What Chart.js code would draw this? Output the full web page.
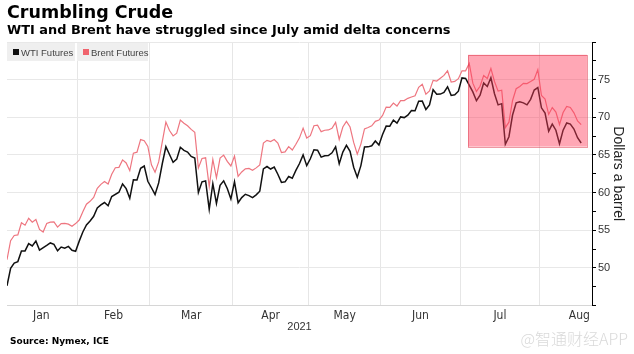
<!DOCTYPE html>
<html>
<head>
<meta charset="utf-8">
<script src="https://cdn.jsdelivr.net/npm/chart.js@4.4.1/dist/chart.umd.min.js"></script>
<style>
  body { margin: 0; background: #fff; }
  #wrap { position: relative; width: 634px; height: 354px; overflow: hidden; font-family: 'DejaVu Sans', sans-serif; }
  #wrap canvas { position: absolute; left: 0; top: 0; }
  .title { position: absolute; left: 7px; top: 2px; font-weight: bold; font-size: 17.5px; line-height: 20px; color: #000; white-space: nowrap; }
  .subtitle { position: absolute; left: 7px; top: 21.5px; font-weight: bold; font-size: 12.9px; line-height: 15px; color: #000; white-space: nowrap; }
  .legend { position: absolute; left: 7px; top: 43px; display: flex; font-family: 'Liberation Sans', sans-serif; font-size: 9.5px; color: #444; white-space: nowrap; }
  .legend .item { background: #efefef; height: 18px; display: flex; align-items: center; padding-left: 6px; margin-right: 2px; box-sizing: border-box; white-space: nowrap; }
  .legend i { display: inline-block; flex: none; width: 6px; height: 6px; margin-right: 2px; }
  .source { position: absolute; left: 10px; top: 336.4px; font-weight: bold; font-size: 9px; line-height: 11px; color: #000; white-space: nowrap; }
  .mark { position: absolute; right: 6px; top: 329px; font-family: 'Noto Sans CJK SC', sans-serif; font-weight: 300; font-size: 16px; line-height: 18px; color: #dadada; white-space: nowrap; }
</style>
</head>
<body>
<div id="wrap">
  <canvas id="crude-chart" width="634" height="354"></canvas>
  <div class="title">Crumbling Crude</div>
  <div class="subtitle">WTI and Brent have struggled since July amid delta concerns</div>
  <div class="legend">
    <span class="item" style="width:68px"><i style="background:#111"></i>WTI Futures</span>
    <span class="item" style="width:71px"><i style="background:#f0646e"></i>Brent Futures</span>
  </div>
  <div class="source">Source: Nymex, ICE</div>
  <div class="mark">@智通财经APP</div>
</div>
<script>
// trading days, 2021
var dates = [
  '01-04','01-05','01-06','01-07','01-08','01-11','01-12','01-13','01-14','01-15','01-18','01-19','01-20','01-21','01-22','01-25','01-26','01-27','01-28','01-29',
  '02-01','02-02','02-03','02-04','02-05','02-08','02-09','02-10','02-11','02-12','02-15','02-16','02-17','02-18','02-19','02-22','02-23','02-24','02-25','02-26',
  '03-01','03-02','03-03','03-04','03-05','03-08','03-09','03-10','03-11','03-12','03-15','03-16','03-17','03-18','03-19','03-22','03-23','03-24','03-25','03-26','03-29','03-30','03-31',
  '04-01','04-05','04-06','04-07','04-08','04-09','04-12','04-13','04-14','04-15','04-16','04-19','04-20','04-21','04-22','04-23','04-26','04-27','04-28','04-29','04-30',
  '05-03','05-04','05-05','05-06','05-07','05-10','05-11','05-12','05-13','05-14','05-17','05-18','05-19','05-20','05-21','05-24','05-25','05-26','05-27','05-28',
  '06-01','06-02','06-03','06-04','06-07','06-08','06-09','06-10','06-11','06-14','06-15','06-16','06-17','06-18','06-21','06-22','06-23','06-24','06-25','06-28','06-29','06-30',
  '07-01','07-02','07-05','07-06','07-07','07-08','07-09','07-12','07-13','07-14','07-15','07-16','07-19','07-20','07-21','07-22','07-23','07-26','07-27','07-28','07-29','07-30',
  '08-02','08-03','08-04','08-05','08-06','08-09','08-10','08-11','08-12','08-13','08-16','08-17'
];

var wti = [
  47.62,49.93,50.63,50.83,52.24,52.25,53.21,52.91,53.57,52.36,null,52.98,53.31,53.13,52.27,52.77,52.61,52.85,52.34,52.20,
  53.55,54.76,55.69,56.23,56.85,57.97,58.36,58.68,58.24,59.47,null,60.05,61.14,60.52,59.24,61.70,61.67,63.22,63.53,61.50,
  60.64,59.75,61.28,63.83,66.09,65.05,64.01,64.44,66.02,65.61,65.39,64.80,64.60,60.00,61.42,61.55,57.76,61.18,58.56,60.97,61.56,60.55,59.16,
  61.45,58.65,59.33,59.77,59.60,59.32,59.70,60.18,63.15,63.46,63.13,63.38,62.44,61.35,61.43,62.14,61.91,62.94,63.86,65.01,63.58,
  64.49,65.69,65.63,64.71,64.90,64.92,65.28,66.08,63.82,65.37,66.27,65.49,63.36,62.05,63.58,66.05,66.07,66.21,66.85,66.32,
  67.72,68.83,68.81,69.62,69.23,70.05,69.96,70.29,70.91,70.88,72.12,72.15,71.04,71.64,73.66,73.06,73.08,73.30,74.05,72.91,72.98,73.47,
  75.23,75.16,null,73.37,72.20,72.94,74.56,74.10,75.25,73.13,71.65,71.81,66.42,67.42,70.30,71.91,72.07,71.91,71.65,72.39,73.62,73.95,
  71.26,70.56,68.15,69.09,68.28,66.48,68.29,69.25,69.09,68.44,67.29,66.59
];

var brent = [
  51.09,53.60,54.30,54.38,55.99,55.66,56.58,56.06,56.42,55.10,54.75,55.90,56.08,56.10,55.41,55.88,55.91,55.81,55.53,55.88,
  56.35,57.46,58.46,58.84,59.34,60.56,61.09,61.47,61.14,62.43,63.30,63.35,64.34,63.93,62.91,65.24,65.37,67.04,66.88,66.13,
  63.69,62.70,64.07,66.74,69.36,68.24,67.52,67.90,69.63,69.22,68.88,68.39,68.00,63.28,64.53,64.62,60.79,64.41,61.95,64.57,64.98,64.14,63.54,
  64.86,62.15,62.74,63.16,63.20,62.95,63.28,63.67,66.58,66.94,66.77,67.05,66.57,65.32,65.40,66.11,65.65,66.42,67.27,68.56,67.25,
  67.56,68.88,68.96,68.09,68.28,68.32,68.55,69.32,67.05,68.71,69.46,68.71,66.66,65.11,66.44,68.46,68.65,68.87,69.46,69.63,
  70.25,71.35,71.31,71.89,71.49,72.22,72.22,72.52,72.69,72.86,73.99,74.39,73.08,73.51,74.90,74.81,75.19,75.56,76.18,74.68,74.76,75.13,
  76.17,76.17,77.16,74.53,73.43,74.12,75.55,75.16,76.49,74.76,73.47,73.59,68.62,69.35,72.23,73.79,74.10,74.50,74.48,74.74,75.05,76.33,
  72.89,72.41,70.38,71.29,70.70,69.04,70.63,71.44,71.31,70.59,69.51,69.03
];

var months = ['Jan', 'Feb', 'Mar', 'Apr', 'May', 'Jun', 'Jul', 'Aug'];
var monthTradingDays = [20, 20, 23, 21, 20, 22, 22, 22];
var yTickLabels = [50, 55, 60, 65, 70, 75];

// shaded July-August slump (trading-day index, dollars)
var highlightDays = [127.7, 160.6];
var highlightPrices = [66.1, 78.3];

var monthBounds = [];
var monthMids = [];
var start = 0;
monthTradingDays.forEach(function(n){
  if (start > 0) monthBounds.push(start - 0.5);
  monthMids.push(start - 0.5 + n / 2);
  start += n;
});

function toPoints(values){
  return values.map(function(v, i){ return {x: i, y: v}; });
}

var highlightBox = {
  id: 'highlightBox',
  afterDatasetsDraw: function(chart){
    var ctx = chart.ctx, x = chart.scales.x, y = chart.scales.y;
    var l = x.getPixelForValue(highlightDays[0]);
    var r = x.getPixelForValue(highlightDays[1]);
    var t = y.getPixelForValue(highlightPrices[1]);
    var b = y.getPixelForValue(highlightPrices[0]);
    ctx.save();
    ctx.fillStyle = 'rgba(255, 60, 90, 0.45)';
    ctx.fillRect(l, t, r - l, b - t);
    ctx.strokeStyle = 'rgba(220, 50, 70, 0.5)';
    ctx.lineWidth = 1;
    ctx.strokeRect(Math.round(l) + 0.5, Math.round(t) + 0.5, Math.round(r - l), Math.round(b - t));
    ctx.restore();
  }
};

Chart.defaults.font.family = "'Liberation Sans', sans-serif";
Chart.defaults.color = '#333';

var ctx = document.getElementById('crude-chart');
var crudeChart = new Chart(ctx, {
  type: 'line',
  data: {
    datasets: [
      {
        label: 'WTI Futures',
        data: toPoints(wti),
        borderColor: '#111',
        borderWidth: 1.5,
        pointRadius: 0,
        tension: 0,
        spanGaps: true
      },
      {
        label: 'Brent Futures',
        data: toPoints(brent),
        borderColor: '#ee7680',
        borderWidth: 1.2,
        pointRadius: 0,
        tension: 0,
        spanGaps: true
      }
    ]
  },
  options: {
    responsive: false,
    animation: false,
    layout: { padding: { left: 7, top: 42, right: 0, bottom: 20 } },
    plugins: {
      legend: { display: false },
      tooltip: { enabled: false }
    },
    scales: {
      x: {
        type: 'linear',
        min: 0,
        max: 162,
        afterFit: function(s){ s.height = 28.5; },
        afterBuildTicks: function(s){
          s.ticks = monthBounds.concat(monthMids)
            .sort(function(a, b){ return a - b; })
            .map(function(v){ return {value: v}; });
        },
        ticks: {
          autoSkip: false,
          maxRotation: 0,
          padding: 3,
          color: '#333',
          font: { family: "'Liberation Sans Narrow', 'DejaVu Sans Condensed', 'Liberation Sans', sans-serif", size: 12 },
          callback: function(value){
            var i = monthMids.indexOf(value);
            return i >= 0 ? months[i] : '';
          }
        },
        grid: {
          drawTicks: false,
          color: function(c){
            return (c.tick && monthBounds.indexOf(c.tick.value) >= 0) ? '#e6e6e6' : 'rgba(0,0,0,0)';
          }
        },
        border: { color: '#d6d6d6' },
        title: {
          display: true,
          text: '2021',
          color: '#333',
          padding: 0,
          font: { size: 11 }
        }
      },
      y: {
        position: 'right',
        min: 45,
        max: 80,
        afterFit: function(s){ s.width = 42; },
        ticks: {
          stepSize: 2.5,
          padding: 2,
          color: '#333',
          font: { size: 11 },
          callback: function(value){
            return yTickLabels.indexOf(value) >= 0 ? String(value) : '';
          }
        },
        grid: {
          drawTicks: true,
          tickLength: 4,
          tickColor: '#000',
          color: function(c){
            return (c.tick && c.tick.value % 5 === 0 && c.tick.value > 45) ? '#e8e8e8' : 'rgba(0,0,0,0)';
          }
        },
        border: { color: '#000', width: 1 },
        title: {
          display: true,
          text: 'Dollars a barrel',
          color: '#222',
          padding: { top: 8, bottom: 0 },
          font: { size: 14 }
        }
      }
    }
  },
  plugins: [highlightBox]
});
</script>
</body>
</html>
